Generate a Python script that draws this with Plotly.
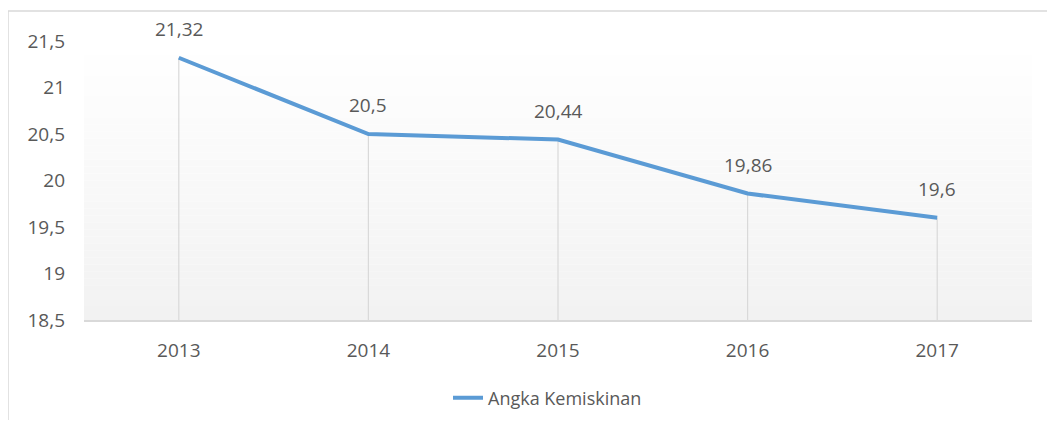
import plotly.graph_objects as go

years = ["2013", "2014", "2015", "2016", "2017"]
values = [21.32, 20.5, 20.44, 19.86, 19.6]
series_name = "Angka Kemiskinan"
y_min, y_max, y_step = 18.5, 21.5, 0.5

LINE = "#5B9BD5"
TXT = "#595959"
GRID = "#D9D9D9"
FONT = "Open Sans"

# page body adds an 8px offset; figure is sized to compensate
OFF = 8
W, H = 1055 - 2 * OFF, 428 - 2 * OFF
L, T = 84 - OFF, 41 - OFF
pw, ph = 948, 279
R = W - L - pw
B = H - T - ph

fig = go.Figure()

# drop lines from each point down to the axis
fig.add_trace(go.Scatter(
    x=years, y=values, mode="markers",
    marker=dict(size=0.1, color="rgba(0,0,0,0)"),
    error_y=dict(type="data", symmetric=False, array=[0] * len(values),
                 arrayminus=[v - y_min for v in values],
                 color=GRID, thickness=1.2, width=0),
    showlegend=False, hoverinfo="skip"))

fig.add_trace(go.Scatter(
    x=years, y=values, mode="lines", name=series_name,
    line=dict(color=LINE, width=4)))

for i, v in enumerate(values):
    fig.add_annotation(x=i, y=v, text=f"{v:g}".replace(".", ","),
                       showarrow=False, yshift=29,
                       font=dict(family=FONT, size=19, color=TXT))

# plot-area vertical gradient (white -> light grey)
n = 40
for i in range(n):
    t = i / (n - 1)
    c = round(255 - (255 - 242) * t)
    fig.add_shape(type="rect", xref="x domain", yref="y domain",
                  x0=0, x1=1, y0=1 - (i + 1) / n, y1=1 - i / n,
                  fillcolor=f"rgb({c},{c},{c})", line=dict(width=0),
                  layer="below")

# chart-area border (left and top edges visible)
bx = (8 - 84) / pw
by = (320 - 11) / ph
fig.add_shape(type="path", xref="paper", yref="paper",
              path=f"M {bx},-1 L {bx},{by} L 1.2,{by}",
              line=dict(color=GRID, width=1.5))

fig.update_layout(
    width=W, height=H,
    margin=dict(l=L, r=R, t=T, b=B, autoexpand=False),
    paper_bgcolor="white", plot_bgcolor="rgba(0,0,0,0)",
    separators=",.",
    font=dict(family=FONT, size=19, color=TXT),
    showlegend=True,
    legend=dict(orientation="h", x=(448 - 84) / pw, xanchor="left",
                y=(320 - 398) / ph, yanchor="middle",
                font=dict(family=FONT, size=18, color=TXT),
                bgcolor="rgba(0,0,0,0)"),
    xaxis=dict(type="category", range=[-0.5, len(years) - 0.5],
               showgrid=False, showline=True, linecolor=GRID, linewidth=2,
               ticks="", ticklabelstandoff=12,
               tickfont=dict(family=FONT, size=19, color=TXT)),
    yaxis=dict(range=[y_min, y_max], dtick=y_step, tick0=y_min,
               showgrid=False, showline=False, zeroline=False,
               ticks="", ticklabelstandoff=18,
               tickfont=dict(family=FONT, size=19, color=TXT)),
)

fig.write_html("out.html")
